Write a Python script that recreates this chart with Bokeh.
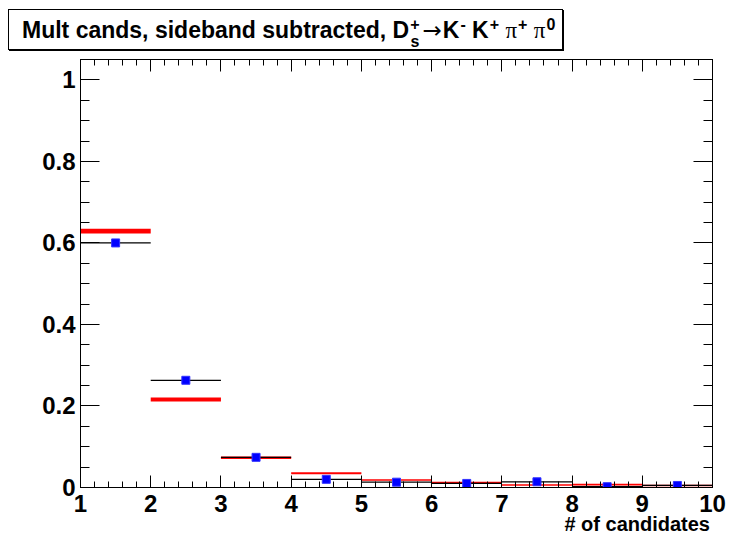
import numpy as np
from bokeh.plotting import figure
from bokeh.models import Range1d, LinearAxis, FixedTicker, Div
from bokeh.layouts import column
from bokeh.embed import file_html
from bokeh.resources import INLINE

# ---------------- data ----------------
bin_lo = [1, 2, 3, 4, 5, 6, 7, 8, 9]
bin_hi = [2, 3, 4, 5, 6, 7, 8, 9, 10]
data_y = [0.600, 0.263, 0.074, 0.020, 0.013, 0.010, 0.014, 0.002, 0.005]
mc_y = [0.629, 0.216, 0.073, 0.035, 0.0185, 0.012, 0.006, 0.007, 0.005]
mc_err = [0.006, 0.005, 0.003, 0.0025, 0.002, 0.002, 0.002, 0.002, 0.002]
x_ticks = [1, 2, 3, 4, 5, 6, 7, 8, 9, 10]
y_ticks = [0, 0.2, 0.4, 0.6, 0.8, 1]
y_labels = ["0", "0.2", "0.4", "0.6", "0.8", "1"]
x_title = "# of candidates"
title_main = "Mult cands, sideband subtracted, D"

FONT = "Liberation Sans"

# ---------------- main plot ----------------
p = figure(width=730, height=466, x_range=Range1d(1, 10), y_range=Range1d(0, 1.05),
           output_backend="svg", toolbar_location=None,
           min_border_left=80, min_border_right=18, min_border_top=4, min_border_bottom=34)
p.xgrid.visible = False
p.ygrid.visible = False
p.outline_line_color = "black"
p.background_fill_color = "white"
p.border_fill_color = "white"

x_minor = [float(v) for v in np.round(np.arange(1, 10.001, 0.2), 3)]
y_minor = [float(v) for v in np.round(np.arange(0, 1.0501, 0.05), 3)]


def style_axis(ax, ticks, minor, maj, mnr, labels):
    ax.ticker = FixedTicker(ticks=ticks, minor_ticks=minor)
    ax.axis_line_color = "black"
    ax.axis_line_width = 1
    ax.major_tick_line_color = "black"
    ax.minor_tick_line_color = "black"
    ax.major_tick_in = maj
    ax.major_tick_out = 0
    ax.minor_tick_in = mnr
    ax.minor_tick_out = 0
    if labels:
        ax.major_label_text_font = FONT
        ax.major_label_text_font_style = "bold"
        ax.major_label_text_font_size = "24px"
        ax.major_label_text_color = "black"
    else:
        ax.major_label_overrides = {t: "" for t in ticks}
        ax.major_label_text_font_size = "1px"
        ax.major_label_standoff = 0


style_axis(p.xaxis[0], x_ticks, x_minor, 12, 6, True)
p.xaxis[0].major_label_standoff = 7
style_axis(p.yaxis[0], y_ticks, y_minor, 19, 9, True)
p.yaxis[0].major_label_standoff = 5
p.yaxis[0].major_label_overrides = {t: l for t, l in zip(y_ticks, y_labels)}

top_ax = LinearAxis()
style_axis(top_ax, x_ticks, x_minor, 12, 6, False)
p.add_layout(top_ax, "above")
right_ax = LinearAxis()
style_axis(right_ax, y_ticks, y_minor, 19, 9, False)
p.add_layout(right_ax, "right")

mc_lo = [m - e for m, e in zip(mc_y, mc_err)]
mc_hi = [m + e for m, e in zip(mc_y, mc_err)]
centers = [(a + b) / 2 for a, b in zip(bin_lo, bin_hi)]

p.quad(left=bin_lo, right=bin_hi, bottom=mc_lo, top=mc_hi,
       fill_color="#ff0000", line_color=None)
p.segment(x0=bin_lo, y0=data_y, x1=bin_hi, y1=data_y, line_color="black", line_width=1.2)
p.scatter(x=centers, y=data_y, marker="square", size=8,
          fill_color="#0000ff", line_color="#3333ff", line_width=1)

# ---------------- title pad (HTML) ----------------
SUP = "font-size:16px;position:relative;top:-8px;"
SUB = "font-size:16px;position:relative;top:9px;"
SYM = "font-family:'Liberation Serif';font-weight:normal;"
title_html = (
    '<div style="position:relative;width:730px;height:55px;background:#fff;">'
    '<div style="position:absolute;left:8px;top:9px;width:555px;height:41px;'
    'box-sizing:border-box;border:1px solid #000;box-shadow:1px 1px 0 #000;background:#fff;'
    "font-family:'Liberation Sans';font-weight:bold;font-size:23px;line-height:26px;"
    'padding:7px 0 0 13px;white-space:nowrap;color:#000;">'
    f'{title_main}'
    f'<span style="{SUP}margin-left:1px;">+</span>'
    f'<span style="{SUB}margin-left:-9px;">s</span>'
    '<span style="font-family:\'DejaVu Sans\';font-weight:normal;margin:0 1px 0 3px;">→</span>K'
    f'<span style="{SUP}margin-left:1px;">-</span>'
    ' K'
    f'<span style="{SUP}margin-left:1px;">+</span>'
    f' <span style="{SYM}">π</span>'
    f'<span style="{SUP}margin-left:1px;">+</span>'
    f' <span style="{SYM}">π</span>'
    f'<span style="{SUP}margin-left:1px;">0</span>'
    '</div></div>'
)
title_div = Div(text=title_html, width=730, height=55, margin=0)

xtitle_html = (
    '<div style="position:relative;width:730px;height:16px;">'
    '<div style="position:absolute;right:20px;top:-5px;'
    "font-family:'Liberation Sans';font-weight:bold;font-size:20px;line-height:16px;"
    f'white-space:nowrap;color:#000;">{x_title}</div></div>'
)
xtitle_div = Div(text=xtitle_html, width=730, height=16, margin=0)

layout = column(title_div, p, xtitle_div, spacing=0)
open("out.html", "w").write(file_html(layout, INLINE))
